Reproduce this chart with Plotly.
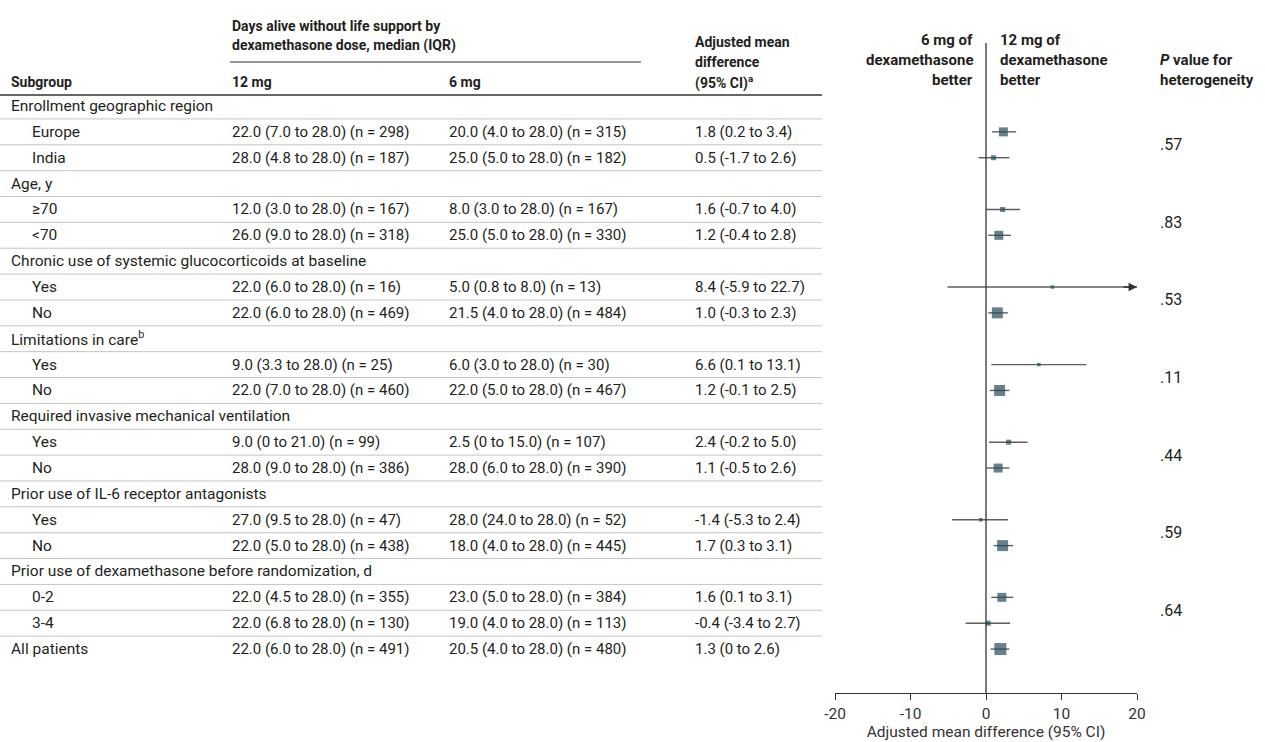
import plotly.graph_objects as go

# ---------------- data ----------------
row_labels = [
    "Enrollment geographic region", "Europe", "India",
    "Age, y", "≥70", "&lt;70",
    "Chronic use of systemic glucocorticoids at baseline", "Yes", "No",
    "Limitations in care<sup>b</sup>", "Yes", "No",
    "Required invasive mechanical ventilation", "Yes", "No",
    "Prior use of IL-6 receptor antagonists", "Yes", "No",
    "Prior use of dexamethasone before randomization, d", "0-2", "3-4",
    "All patients",
]
row_indent = [0, 1, 1, 0, 1, 1, 0, 1, 1, 0, 1, 1, 0, 1, 1, 0, 1, 1, 0, 1, 1, 0]

data_rows = [1, 2, 4, 5, 7, 8, 10, 11, 13, 14, 16, 17, 19, 20, 21]

median_12mg = [
    "22.0 (7.0 to 28.0) (n = 298)", "28.0 (4.8 to 28.0) (n = 187)",
    "12.0 (3.0 to 28.0) (n = 167)", "26.0 (9.0 to 28.0) (n = 318)",
    "22.0 (6.0 to 28.0) (n = 16)", "22.0 (6.0 to 28.0) (n = 469)",
    "9.0 (3.3 to 28.0) (n = 25)", "22.0 (7.0 to 28.0) (n = 460)",
    "9.0 (0 to 21.0) (n = 99)", "28.0 (9.0 to 28.0) (n = 386)",
    "27.0 (9.5 to 28.0) (n = 47)", "22.0 (5.0 to 28.0) (n = 438)",
    "22.0 (4.5 to 28.0) (n = 355)", "22.0 (6.8 to 28.0) (n = 130)",
    "22.0 (6.0 to 28.0) (n = 491)",
]
median_6mg = [
    "20.0 (4.0 to 28.0) (n = 315)", "25.0 (5.0 to 28.0) (n = 182)",
    "8.0 (3.0 to 28.0) (n = 167)", "25.0 (5.0 to 28.0) (n = 330)",
    "5.0 (0.8 to 8.0) (n = 13)", "21.5 (4.0 to 28.0) (n = 484)",
    "6.0 (3.0 to 28.0) (n = 30)", "22.0 (5.0 to 28.0) (n = 467)",
    "2.5 (0 to 15.0) (n = 107)", "28.0 (6.0 to 28.0) (n = 390)",
    "28.0 (24.0 to 28.0) (n = 52)", "18.0 (4.0 to 28.0) (n = 445)",
    "23.0 (5.0 to 28.0) (n = 384)", "19.0 (4.0 to 28.0) (n = 113)",
    "20.5 (4.0 to 28.0) (n = 480)",
]
adj_diff_text = [
    "1.8 (0.2 to 3.4)", "0.5 (-1.7 to 2.6)",
    "1.6 (-0.7 to 4.0)", "1.2 (-0.4 to 2.8)",
    "8.4 (-5.9 to 22.7)", "1.0 (-0.3 to 2.3)",
    "6.6 (0.1 to 13.1)", "1.2 (-0.1 to 2.5)",
    "2.4 (-0.2 to 5.0)", "1.1 (-0.5 to 2.6)",
    "-1.4 (-5.3 to 2.4)", "1.7 (0.3 to 3.1)",
    "1.6 (0.1 to 3.1)", "-0.4 (-3.4 to 2.7)",
    "1.3 (0 to 2.6)",
]

# values as drawn in the forest plot
plot_est = [2.3, 1.0, 2.2, 1.7, 8.8, 1.5, 7.0, 1.8, 3.0, 1.6, -0.7, 2.2, 2.1, 0.3, 1.9]
plot_lo = [0.8, -1.0, 0.0, 0.3, -5.1, 0.3, 0.7, 0.5, 0.4, 0.1, -4.5, 1.0, 0.7, -2.7, 0.6]
plot_hi = [4.0, 3.1, 4.5, 3.3, 22.7, 2.9, 13.3, 3.1, 5.5, 3.1, 2.9, 3.6, 3.6, 3.2, 3.1]
marker_px = [9, 5, 5, 9, 3.5, 11, 3.5, 11, 5, 9, 3.5, 11, 9, 5, 12]

p_values = [".57", ".83", ".53", ".11", ".44", ".59", ".64"]
p_rows = [1.5, 4.5, 7.5, 10.5, 13.5, 16.5, 19.5]

x_ticks = [-20, -10, 0, 10, 20]

# ---------------- layout helpers ----------------
W, H = 1265, 742
ROW0, STEP = 106.0, 25.86       # pixel centre of first row and row pitch
AXIS_PX = 693                    # pixel y of the x axis line
FONT = "Roboto, Liberation Sans, Arial, sans-serif"
TXT = "#231f20"


def px_x(p):
    return p / W


def px_y(p):
    return 1 - p / H


fig = go.Figure()

# CI lines
cx, cy = [], []
for r, lo, hi in zip(data_rows, plot_lo, plot_hi):
    cx += [lo, hi, None]
    cy += [r, r, None]
fig.add_trace(go.Scatter(x=cx, y=cy, mode="lines",
                         line=dict(color="#5e5e5e", width=1.4),
                         hoverinfo="skip", showlegend=False))
# point estimates
fig.add_trace(go.Scatter(x=plot_est, y=data_rows, mode="markers",
                         marker=dict(symbol="square", size=marker_px,
                                     color="#244b5b", line=dict(width=0)),
                         showlegend=False))

annotations = []
# arrow for clipped CI
for r, hi in zip(data_rows, plot_hi):
    if hi > x_ticks[-1]:
        annotations.append(dict(x=x_ticks[-1], y=r, ax=x_ticks[-1] - 2, ay=r,
                                xref="x", yref="y", axref="x", ayref="y",
                                text="", showarrow=True, arrowhead=2,
                                arrowsize=1.3, arrowwidth=1.3, arrowcolor="#333"))


def add_text(text, x, y, yref="paper", xanchor="left", size=15, color=TXT):
    annotations.append(dict(text=text, x=x, y=y, xref="paper", yref=yref,
                            xanchor=xanchor, yanchor="middle", showarrow=False,
                            font=dict(family=FONT, size=size, color=color)))


# table header
add_text("<b>Days alive without life support by</b>", px_x(230), px_y(26), size=14)
add_text("<b>dexamethasone dose, median (IQR)</b>", px_x(230), px_y(46), size=14)
add_text("<b>Subgroup</b>", px_x(9), px_y(82), size=14)
add_text("<b>12 mg</b>", px_x(230), px_y(82), size=14)
add_text("<b>6 mg</b>", px_x(447), px_y(82), size=14)
add_text("<b>Adjusted mean</b>", px_x(693), px_y(42), size=14)
add_text("<b>difference</b>", px_x(693), px_y(62), size=14)
add_text("<b>(95% CI)<sup>a</sup></b>", px_x(693), px_y(82), size=14)

# forest header
add_text("<b>6 mg of</b>", px_x(975), px_y(40), xanchor="right", size=15)
add_text("<b>dexamethasone</b>", px_x(975), px_y(60), xanchor="right", size=15)
add_text("<b>better</b>", px_x(975), px_y(80), xanchor="right", size=15)
add_text("<b>12 mg of</b>", px_x(998), px_y(40), size=15)
add_text("<b>dexamethasone</b>", px_x(998), px_y(60), size=15)
add_text("<b>better</b>", px_x(998), px_y(80), size=15)
add_text("<b><i>P</i> value for</b>", px_x(1158), px_y(60), size=15)
add_text("<b>heterogeneity</b>", px_x(1158), px_y(80), size=15)

# row labels
for i, (lab, ind) in enumerate(zip(row_labels, row_indent)):
    add_text(lab, px_x(30 if ind else 9), i, yref="y", size=15.5)

# table body
for r, a, b, c in zip(data_rows, median_12mg, median_6mg, adj_diff_text):
    add_text(a, px_x(230), r, yref="y")
    add_text(b, px_x(447), r, yref="y")
    add_text(c, px_x(693), r, yref="y")

# p values
for p, r in zip(p_values, p_rows):
    add_text(p, px_x(1158), r, yref="y", size=16)

shapes = []
# header underline and thick rule
shapes.append(dict(type="line", xref="paper", yref="paper",
                   x0=px_x(230), x1=px_x(641), y0=px_y(62), y1=px_y(62),
                   line=dict(color="#333", width=1)))
shapes.append(dict(type="line", xref="paper", yref="paper",
                   x0=0, x1=px_x(822), y0=px_y(95), y1=px_y(95),
                   line=dict(color="#333", width=1.6)))
# row separators
for i in range(len(row_labels) - 1):
    shapes.append(dict(type="line", xref="paper", yref="y",
                       x0=0, x1=px_x(822), y0=i + 0.5, y1=i + 0.5,
                       line=dict(color="#c4c4c4", width=1)))
# zero reference line
shapes.append(dict(type="line", xref="x", yref="paper",
                   x0=0, x1=0, y0=px_y(AXIS_PX), y1=px_y(43),
                   line=dict(color="#333", width=1.3)))

fig.update_layout(
    width=W, height=H,
    margin=dict(l=0, r=0, t=0, b=0),
    paper_bgcolor="white", plot_bgcolor="white",
    annotations=annotations, shapes=shapes,
    xaxis=dict(domain=[px_x(835), px_x(1137)], range=[-20, 20],
               tickvals=x_ticks, ticktext=[str(t) for t in x_ticks],
               ticks="outside", ticklen=6, tickcolor="#333", tickwidth=1.3,
               showline=True, linecolor="#333", linewidth=1.3,
               showgrid=False, zeroline=False, automargin=False,
               tickfont=dict(family=FONT, size=15.5, color="#333"),
               title=dict(text="Adjusted mean difference (95% CI)",
                          font=dict(family=FONT, size=15.5, color="#333"),
                          standoff=4)),
    yaxis=dict(domain=[px_y(AXIS_PX), 1],
               range=[(AXIS_PX - ROW0) / STEP, (0 - ROW0) / STEP],
               visible=False, showgrid=False, zeroline=False, automargin=False),
)

fig.write_html("out.html", config={"displayModeBar": False},
               post_script="document.body.style.margin='0';"
                           "document.body.style.overflow='hidden';")
